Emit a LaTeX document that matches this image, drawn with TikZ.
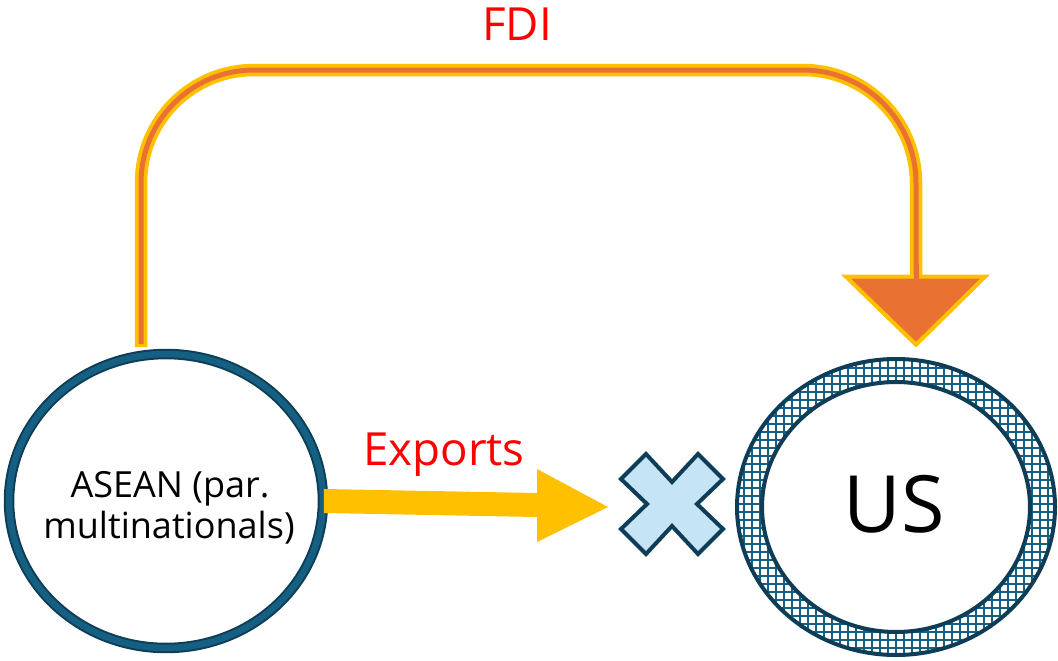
\documentclass[tikz,border=0pt]{standalone}
\usepackage{fontspec}
\setmainfont{Open Sans}
\usetikzlibrary{shapes.geometric,calc}

\definecolor{ringdark}{HTML}{0E3E57}
\definecolor{ringmid}{HTML}{156082}
\definecolor{fdiyellow}{HTML}{FFC000}
\definecolor{fdiorange}{HTML}{E97132}
\definecolor{crossfill}{HTML}{C5E4F5}
\definecolor{labelred}{HTML}{FF0000}

\tikzset{
  country/.style={ellipse, inner sep=0pt},
  aseanring/.style={draw=ringdark, line width=0.04cm, double=ringmid, double distance=0.13cm},
  usring/.style={draw=ringdark, line width=0.08cm},
  flowlabel/.style={text=labelred, font=\fontsize{26}{30}\selectfont, anchor=base, inner sep=0pt},
  namelabel/.style={text=black, font=\fontsize{20.5}{24}\selectfont, anchor=base, inner sep=0pt},
  fdiouter/.style={draw=fdiyellow, line width=0.25cm, rounded corners=2.26cm},
  fdiinner/.style={draw=fdiorange, line width=0.1cm, rounded corners=2.26cm},
  exportarrow/.style={fill=fdiyellow},
  blocked/.style={fill=crossfill, draw=ringdark, line width=0.08cm, line join=miter},
}

\begin{document}
\begin{tikzpicture}[x=0.02cm, y=-0.02cm]
\useasboundingbox (0,0) rectangle (1058,660);

% ASEAN circle
\node[country, aseanring, minimum width=6.28cm, minimum height=5.88cm] (asean) at (166,501) {};
\node[namelabel] (aseanline1) at (170,497) {ASEAN (par.};
\node[namelabel] (aseanline2) at (169,538) {multinationals)};

% US circle with a cross-hatched ring
\node[country, minimum width=6.36cm, minimum height=5.92cm] (us) at (896,507) {};
\begin{scope}
  \clip (us.center) ellipse [x radius=159, y radius=148];
  \draw[ringmid, line width=0.034cm, step=0.16cm] (730,350) grid (1060,662);
\end{scope}
\node[country, fill=white, usring, minimum width=5.36cm, minimum height=5.0cm] (usinner) at (us.center) {};
\draw[usring] (us.center) ellipse [x radius=159, y radius=148];
\node[text=black, font=\fontsize{45}{50}\selectfont, anchor=base, inner sep=0pt] (uslabel) at (894,532) {US};

% FDI route over the top
\coordinate (fdistart) at ($(asean.north)+(-25,-6)$);
\coordinate (fdiend) at ($(us.north)+(20,-83)$);
\draw[fdiouter] (fdistart) -- (141,70) -- (916,70) -- (fdiend);
\draw[fdiinner] ($(fdistart)+(0,-3)$) -- (141,70) -- (916,70) -- (fdiend);
\coordinate (fditip) at ($(us.north)+(20,-14)$);
\filldraw[fill=fdiorange, draw=fdiyellow, line width=0.08cm, line join=miter]
  ($(fdiend)+(-70,1)$) -- ($(fdiend)+(69,1)$) -- (fditip) -- cycle;
\draw[draw=fdiorange, line width=0.1cm] ($(fdiend)+(0,-12)$) -- ($(fdiend)+(0,12)$);
\node[flowlabel] (fdilabel) at (517,40) {FDI};

% blocked exports
\coordinate (cross) at (672,504);
\path[blocked, shift={(cross)}]
  (-26,-50) -- (0,-22) -- (26,-50) -- (51,-25) -- (25,0) -- (51,25) -- (26,50)
  -- (0,22) -- (-26,50) -- (-51,25) -- (-25,0) -- (-51,-25) -- cycle;
\coordinate (exporttip) at ($(cross)+(-64,3)$);
\fill[exportarrow] ($(asean.east)+(0,-12)$) -- (537,493) -- (537,469) -- (exporttip)
  -- (537,542) -- (537,517) -- ($(asean.east)+(0,12)$) -- cycle;
\node[flowlabel] (exportslabel) at (444,465) {Exports};
\end{tikzpicture}
\end{document}
